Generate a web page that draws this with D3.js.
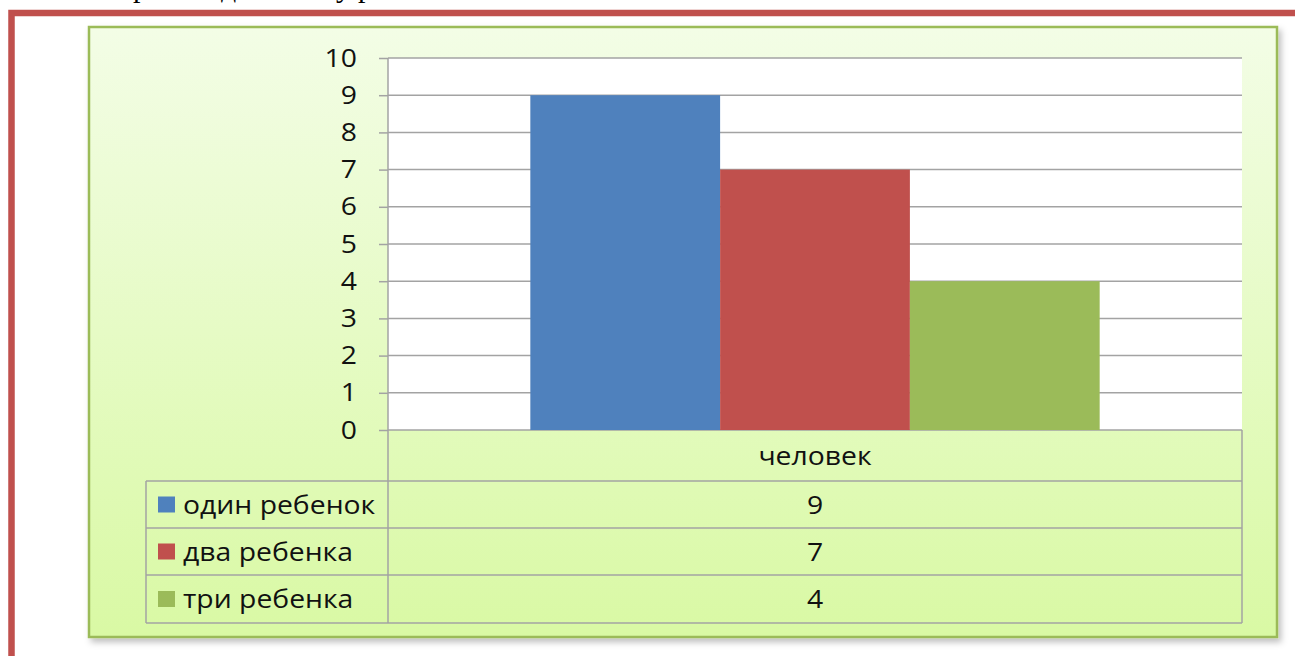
<!DOCTYPE html>
<html>
<head>
<meta charset="utf-8">
<script src="https://cdn.jsdelivr.net/npm/d3@7"></script>
<style>
  html, body { margin: 0; padding: 0; background: #fff; overflow: hidden; }
  svg { display: block; }
</style>
</head>
<body>
<script>
'use strict';

const width = 1295;
const height = 656;

// chart data
const categories = ['человек'];
const seriesNames = ['один ребенок', 'два ребенка', 'три ребенка'];
const seriesValues = [9, 7, 4];
const seriesColors = ['#4f81bd', '#c0504d', '#9bbb59'];
const yTicks = [0, 1, 2, 3, 4, 5, 6, 7, 8, 9, 10];

// layout
const boxX = 89, boxY = 27, boxW = 1188, boxH = 610;
const plotLeft = 388, plotRight = 1242, plotTop = 58, plotBottom = 430;
const legendLeft = 146;
const rowLines = [481, 528, 575, 623];
const gridColor = '#a3a3a3';
const textFont = "'Open Sans', sans-serif";
const fontSize = 26;
const stretch = 1.09; // text in the picture is a little wider than the font

let svg = d3.select('body').append('svg').attr('width', width).attr('height', height);

let defs = svg.append('defs');
let grad = defs.append('linearGradient').attr('id', 'bg').attr('x1', 0).attr('y1', 0).attr('x2', 0).attr('y2', 1);
grad.append('stop').attr('offset', '0%').attr('stop-color', '#f3fde6');
grad.append('stop').attr('offset', '100%').attr('stop-color', '#d9f9a4');

let shadow = defs.append('filter').attr('id', 'shadow').attr('x', '-5%').attr('y', '-5%').attr('width', '110%').attr('height', '115%');
shadow.append('feDropShadow').attr('dx', 3).attr('dy', 4).attr('stdDeviation', 3)
    .attr('flood-color', '#000').attr('flood-opacity', 0.25);

function addText(parent, x, y, anchor, txt) {
    return parent.append('text')
        .attr('transform', 'translate(' + x + ',' + y + ') scale(' + stretch + ',1)')
        .attr('dy', '0.35em')
        .attr('text-anchor', anchor)
        .attr('font-family', textFont)
        .attr('font-size', fontSize)
        .attr('fill', '#111')
        .text(txt);
}

// cut-off line of text above the frame
svg.append('text')
    .attr('font-family', "'Liberation Serif', serif")
    .attr('font-size', 30)
    .attr('fill', '#000')
    .attr('y', -3)
    .selectAll('tspan')
    .data([{ x: 133, t: 'р' }, { x: 221, t: 'д' }, { x: 336, t: 'у' }, { x: 358, t: 'р' }])
    .join('tspan')
    .attr('x', d => d.x)
    .text(d => d.t);

// red page frame
svg.append('path')
    .attr('d', `M11.5,${height} V13 H${width}`)
    .attr('fill', 'none')
    .attr('stroke', '#c0504d')
    .attr('stroke-width', 6.5);

// chart area
svg.append('rect')
    .attr('x', boxX).attr('y', boxY)
    .attr('width', boxW).attr('height', boxH)
    .attr('fill', 'url(#bg)')
    .attr('stroke', '#9bbb59')
    .attr('stroke-width', 2.5)
    .attr('filter', 'url(#shadow)');

// plot area
svg.append('rect')
    .attr('x', plotLeft).attr('y', plotTop)
    .attr('width', plotRight - plotLeft).attr('height', plotBottom - plotTop)
    .attr('fill', '#fff');

let yScale = d3.scaleLinear().domain([0, 10]).range([plotBottom, plotTop]);

let xScale = d3.scaleBand().domain(categories).range([plotLeft, plotRight]);
let barW = xScale.bandwidth() / 4.5;
let xInner = d3.scaleBand().domain(seriesNames)
    .range([0.75 * barW, xScale.bandwidth() - 0.75 * barW]);

// gridlines
svg.append('g')
    .selectAll('line')
    .data(yTicks)
    .join('line')
    .attr('x1', plotLeft).attr('x2', plotRight)
    .attr('y1', d => yScale(d)).attr('y2', d => yScale(d))
    .attr('stroke', gridColor)
    .attr('stroke-width', 1.5);

// bars
let bars = [];
for (let c of categories) {
    seriesNames.forEach((s, i) => bars.push({ cat: c, name: s, value: seriesValues[i], color: seriesColors[i] }));
}
svg.append('g')
    .selectAll('rect')
    .data(bars)
    .join('rect')
    .attr('x', d => xScale(d.cat) + xInner(d.name))
    .attr('width', xInner.bandwidth())
    .attr('y', d => yScale(d.value))
    .attr('height', d => yScale(0) - yScale(d.value))
    .attr('fill', d => d.color);

// y axis: ticks from d3, labels stretched like the rest of the text
const yAxis = d3.axisLeft(yScale).tickValues(yTicks).tickSize(9).tickFormat(d3.format('d'));
let yAxisG = svg.append('g')
    .attr('transform', 'translate(' + plotLeft + ',0)')
    .call(yAxis);
yAxisG.select('.domain').remove();
yAxisG.selectAll('line').attr('stroke', gridColor).attr('stroke-width', 1.5);
yAxisG.selectAll('.tick text').remove();
yAxisG.selectAll('.tick').each(function (d) {
    addText(d3.select(this), -31, -1, 'end', d);
});

// data table
let table = svg.append('g').attr('stroke', gridColor).attr('stroke-width', 1.5).attr('fill', 'none');
table.append('line').attr('x1', plotLeft).attr('x2', plotLeft).attr('y1', plotTop).attr('y2', rowLines[rowLines.length - 1]);
table.append('line').attr('x1', plotRight).attr('x2', plotRight).attr('y1', plotBottom).attr('y2', rowLines[rowLines.length - 1]);
table.append('line').attr('x1', legendLeft).attr('x2', legendLeft).attr('y1', rowLines[0]).attr('y2', rowLines[rowLines.length - 1]);
table.selectAll('line.row')
    .data(rowLines)
    .join('line')
    .attr('class', 'row')
    .attr('x1', legendLeft).attr('x2', plotRight)
    .attr('y1', d => d).attr('y2', d => d);

let colCenter = xScale(categories[0]) + xScale.bandwidth() / 2;

addText(svg, colCenter, (plotBottom + rowLines[0]) / 2, 'middle', categories[0]);

let rowData = seriesNames.map((s, i) => ({ name: s, value: seriesValues[i], color: seriesColors[i], y0: rowLines[i], y1: rowLines[i + 1] }));

for (let r of rowData) {
    let cy = (r.y0 + r.y1) / 2;
    svg.append('rect')
        .attr('x', 158)
        .attr('y', cy - 8)
        .attr('width', 17).attr('height', 16)
        .attr('fill', r.color);
    addText(svg, 183, cy, 'start', r.name);
    addText(svg, colCenter, cy, 'middle', r.value);
}
</script>
</body>
</html>
